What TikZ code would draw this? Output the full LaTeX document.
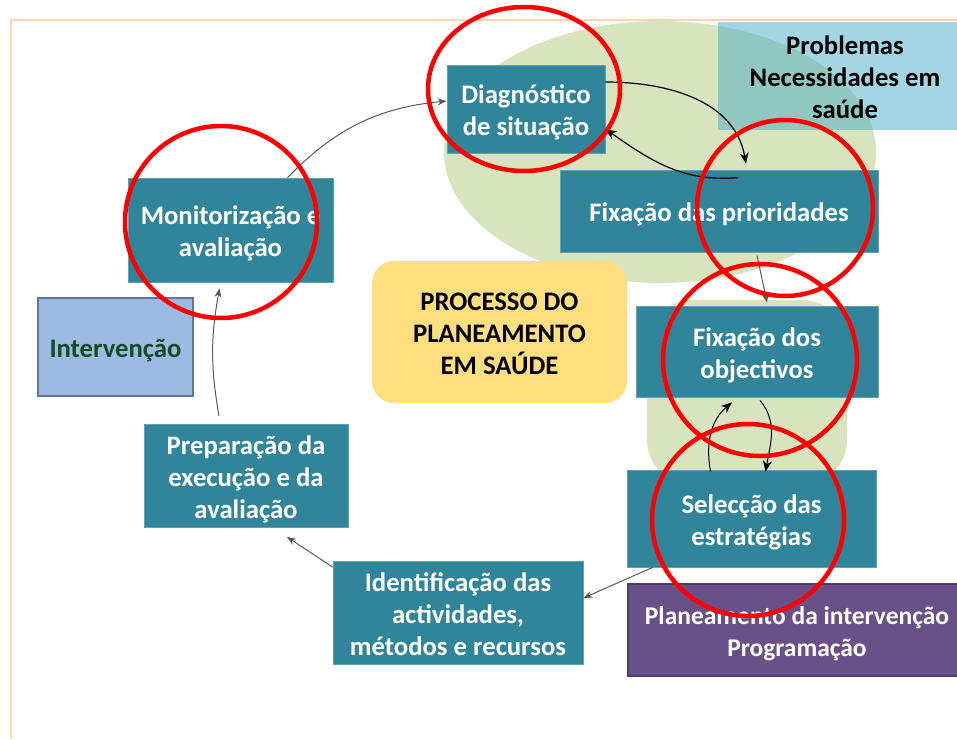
\documentclass[tikz,border=0pt]{standalone}
\usepackage{fontspec}
\setmainfont{Carlito}
\usetikzlibrary{arrows.meta}
\usetikzlibrary{calc}

\definecolor{petroleo}{RGB}{49,133,155}
\definecolor{petroleoclaro}{RGB}{95,160,180}
\definecolor{verdeclaro}{RGB}{215,228,189}
\definecolor{aguamar}{RGB}{75,172,198}
\definecolor{amarelo}{RGB}{255,222,128}
\definecolor{azulint}{RGB}{157,186,226}
\definecolor{azulborda}{RGB}{95,115,155}
\definecolor{verdetexto}{RGB}{20,75,35}
\definecolor{roxo}{RGB}{106,80,136}
\definecolor{roxoborda}{RGB}{80,60,105}
\definecolor{moldura}{RGB}{252,213,180}
\definecolor{cinzaseta}{RGB}{90,90,90}

\newcommand{\topo}{\rule{0pt}{30pt}}

\begin{document}
\begin{tikzpicture}[x=1pt, y=-1pt,
letra/.style={font=\bfseries\fontsize{26.7}{32}\selectfont, align=center, inner sep=0pt,
  execute at end node={\rule[-9pt]{0pt}{0pt}}},
etapa/.style={letra, fill=petroleo, draw=petroleoclaro, line width=0.8pt, text=white},
seta/.style={draw=cinzaseta, line width=1pt, -{Stealth[length=9pt,width=7pt]}},
setapreta/.style={draw=black, line width=1.2pt, -{Stealth[length=11pt,width=9pt]}},
circulo/.style={draw=red, line width=4.5pt}]
\useasboundingbox (0,0) rectangle (957,739);
\fill[white] (0,0) rectangle (957,739);
\draw[moldura, line width=1.5pt] (11,739) -- (11,20) -- (957,20);

\fill[verdeclaro] (660,152) ellipse [x radius=216pt, y radius=131pt];
\fill[verdeclaro, rounded corners=45pt] (647,300) rectangle (847,485);

\node[letra, fill=aguamar, fill opacity=0.5, text opacity=1, minimum width=254pt, minimum height=108pt] (prob) at (845,76) {\topo Problemas\\Necessidades em\\saúde};
\node[etapa, minimum width=158pt, minimum height=88pt] (diag) at (526,109) {\topo Diagnóstico\\de situação};
\node[etapa, minimum width=318pt, minimum height=82pt] (prio) at (719,211) {\topo Fixação das prioridades};
\node[etapa, minimum width=205pt, minimum height=104pt] (moni) at (230.5,230) {\topo Monitorização e\\avaliação};
\node[letra, fill=amarelo, rounded corners=22pt, minimum width=255pt, minimum height=142pt] (proc) at (499.5,332) {\topo PROCESSO DO\\PLANEAMENTO\\EM SAÚDE};
\node[letra, fill=azulint, draw=azulborda, line width=1.5pt, text=verdetexto, minimum width=155pt, minimum height=98pt] (interv) at (115.5,347) {\topo Intervenção};
\node[etapa, minimum width=242pt, minimum height=91pt] (obj) at (757,351.5) {\topo Fixação dos\\objectivos};
\node[etapa, minimum width=249pt, minimum height=97pt] (estr) at (751.5,518.5) {\topo Selecção das\\estratégias};
\node[letra, font=\bfseries\fontsize{25.5}{32}\selectfont, fill=roxo, draw=roxoborda, line width=1.5pt, text=white, minimum width=338pt, minimum height=92pt] (plan) at (797,630) {\topo Planeamento da intervenção\\Programação};
\node[etapa, minimum width=250pt, minimum height=98pt] (ident) at (458,613) {\topo Identificação das\\actividades,\\métodos e recursos};
\node[etapa, minimum width=204pt, minimum height=100pt] (prep) at (246,476) {\topo Preparação da\\execução e da\\avaliação};

\draw[seta] ([xshift=57pt]moni.north) to[bend left=20] ([yshift=8pt]diag.west);
\draw[setapreta] ([yshift=27pt]diag.east) to[out=0,in=100] ([xshift=27pt,yshift=6pt]prio.north);
\draw[setapreta] ([xshift=19pt,yshift=-8pt]prio.north) to[out=185,in=-35] ([yshift=-20pt]diag.east);
\draw[seta] ([xshift=38pt,yshift=-3pt]prio.south) -- ([xshift=10pt,yshift=3pt]obj.north);
\draw[setapreta, line width=1pt] ([xshift=-41pt,yshift=-2pt]estr.north) to[out=100,in=220] ([xshift=-25pt,yshift=-5pt]obj.south);
\draw[setapreta, line width=1pt] ([xshift=3pt,yshift=-3pt]obj.south) to[out=-50,in=80] ([xshift=14pt,yshift=-2pt]estr.north);
\draw[seta] ([xshift=26pt]estr.south west) -- ([yshift=15pt]ident.east);
\draw[seta] ([yshift=-6pt]ident.north west) -- ([xshift=41pt,yshift=-9pt]prep.south);
\draw[seta] ([xshift=-27pt,yshift=8pt]prep.north) to[bend left=10] ([xshift=-11pt,yshift=-6pt]moni.south);

\draw[circulo] (524,89) ellipse [x radius=96pt, y radius=82pt];
\draw[circulo] (221,222) ellipse [x radius=96pt, y radius=96pt];
\draw[circulo] (785,208) ellipse [x radius=88pt, y radius=88pt];
\draw[circulo] (760,360) ellipse [x radius=97pt, y radius=96pt];
\draw[circulo] (748,520) ellipse [x radius=96pt, y radius=96pt];
\end{tikzpicture}
\end{document}
